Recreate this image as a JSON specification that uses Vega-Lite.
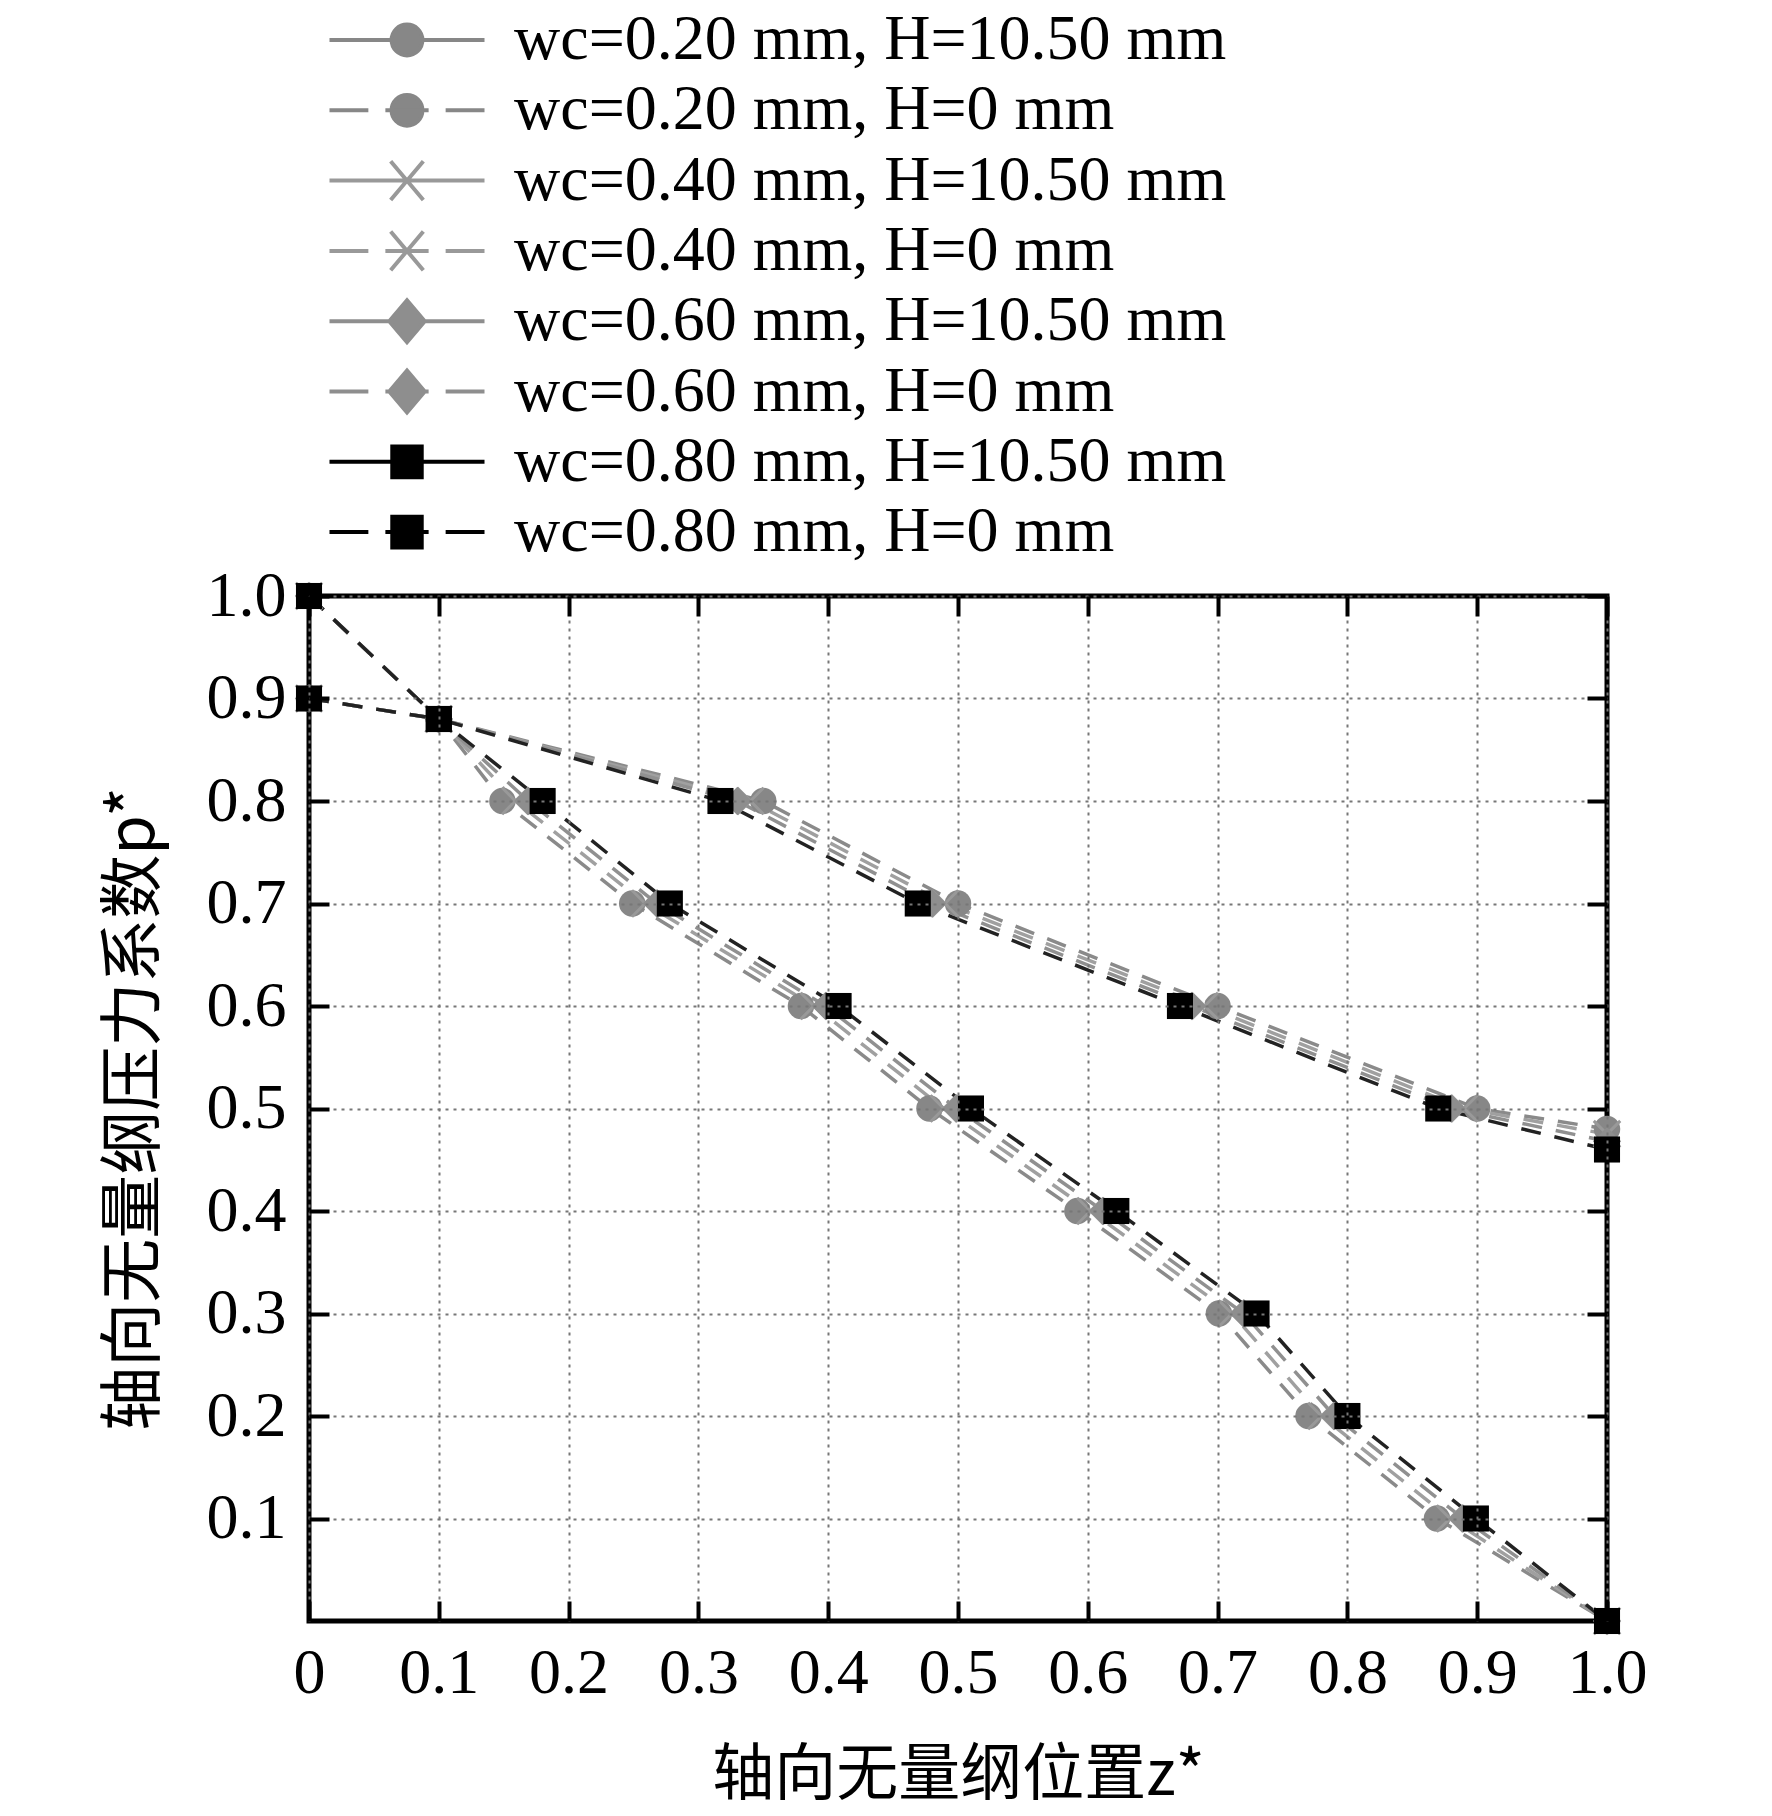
{
  "$schema": "https://vega.github.io/schema/vega-lite/v6.json",
  "autosize": {"type": "none"},
  "padding": {"left": 309, "top": 596, "right": 165, "bottom": 195},
  "width": 1298,
  "height": 1025,
  "background": "white",
  "config": {
    "view": {"stroke": "black", "strokeWidth": 5},
    "font": "Liberation Serif"
  },
  "data": {
    "values": [
      {"series": "wc=0.20 mm, H=10.50 mm", "wc": "0.20", "z": 0, "p": 0.9},
      {"series": "wc=0.20 mm, H=10.50 mm", "wc": "0.20", "z": 0.1, "p": 0.88},
      {"series": "wc=0.20 mm, H=10.50 mm", "wc": "0.20", "z": 0.35, "p": 0.8},
      {"series": "wc=0.20 mm, H=10.50 mm", "wc": "0.20", "z": 0.5, "p": 0.7},
      {"series": "wc=0.20 mm, H=10.50 mm", "wc": "0.20", "z": 0.7, "p": 0.6},
      {"series": "wc=0.20 mm, H=10.50 mm", "wc": "0.20", "z": 0.9, "p": 0.5},
      {"series": "wc=0.20 mm, H=10.50 mm", "wc": "0.20", "z": 1.0, "p": 0.48},
      {"series": "wc=0.40 mm, H=10.50 mm", "wc": "0.40", "z": 0, "p": 0.9},
      {"series": "wc=0.40 mm, H=10.50 mm", "wc": "0.40", "z": 0.1, "p": 0.88},
      {"series": "wc=0.40 mm, H=10.50 mm", "wc": "0.40", "z": 0.34, "p": 0.8},
      {"series": "wc=0.40 mm, H=10.50 mm", "wc": "0.40", "z": 0.49, "p": 0.7},
      {"series": "wc=0.40 mm, H=10.50 mm", "wc": "0.40", "z": 0.69, "p": 0.6},
      {"series": "wc=0.40 mm, H=10.50 mm", "wc": "0.40", "z": 0.89, "p": 0.5},
      {"series": "wc=0.40 mm, H=10.50 mm", "wc": "0.40", "z": 1.0, "p": 0.475},
      {"series": "wc=0.60 mm, H=10.50 mm", "wc": "0.60", "z": 0, "p": 0.9},
      {"series": "wc=0.60 mm, H=10.50 mm", "wc": "0.60", "z": 0.1, "p": 0.88},
      {"series": "wc=0.60 mm, H=10.50 mm", "wc": "0.60", "z": 0.33, "p": 0.8},
      {"series": "wc=0.60 mm, H=10.50 mm", "wc": "0.60", "z": 0.48, "p": 0.7},
      {"series": "wc=0.60 mm, H=10.50 mm", "wc": "0.60", "z": 0.68, "p": 0.6},
      {"series": "wc=0.60 mm, H=10.50 mm", "wc": "0.60", "z": 0.88, "p": 0.5},
      {"series": "wc=0.60 mm, H=10.50 mm", "wc": "0.60", "z": 1.0, "p": 0.468},
      {"series": "wc=0.80 mm, H=10.50 mm", "wc": "0.80", "z": 0, "p": 0.9},
      {"series": "wc=0.80 mm, H=10.50 mm", "wc": "0.80", "z": 0.1, "p": 0.88},
      {"series": "wc=0.80 mm, H=10.50 mm", "wc": "0.80", "z": 0.317, "p": 0.8},
      {"series": "wc=0.80 mm, H=10.50 mm", "wc": "0.80", "z": 0.469, "p": 0.7},
      {"series": "wc=0.80 mm, H=10.50 mm", "wc": "0.80", "z": 0.671, "p": 0.6},
      {"series": "wc=0.80 mm, H=10.50 mm", "wc": "0.80", "z": 0.87, "p": 0.5},
      {"series": "wc=0.80 mm, H=10.50 mm", "wc": "0.80", "z": 1.0, "p": 0.46},
      {"series": "wc=0.20 mm, H=0 mm", "wc": "0.20", "z": 0, "p": 1.0},
      {"series": "wc=0.20 mm, H=0 mm", "wc": "0.20", "z": 0.1, "p": 0.88},
      {"series": "wc=0.20 mm, H=0 mm", "wc": "0.20", "z": 0.149, "p": 0.8},
      {"series": "wc=0.20 mm, H=0 mm", "wc": "0.20", "z": 0.249, "p": 0.7},
      {"series": "wc=0.20 mm, H=0 mm", "wc": "0.20", "z": 0.379, "p": 0.6},
      {"series": "wc=0.20 mm, H=0 mm", "wc": "0.20", "z": 0.478, "p": 0.5},
      {"series": "wc=0.20 mm, H=0 mm", "wc": "0.20", "z": 0.592, "p": 0.4},
      {"series": "wc=0.20 mm, H=0 mm", "wc": "0.20", "z": 0.701, "p": 0.3},
      {"series": "wc=0.20 mm, H=0 mm", "wc": "0.20", "z": 0.77, "p": 0.2},
      {"series": "wc=0.20 mm, H=0 mm", "wc": "0.20", "z": 0.869, "p": 0.1},
      {"series": "wc=0.20 mm, H=0 mm", "wc": "0.20", "z": 1.0, "p": 0},
      {"series": "wc=0.40 mm, H=0 mm", "wc": "0.40", "z": 0, "p": 1.0},
      {"series": "wc=0.40 mm, H=0 mm", "wc": "0.40", "z": 0.1, "p": 0.88},
      {"series": "wc=0.40 mm, H=0 mm", "wc": "0.40", "z": 0.159, "p": 0.8},
      {"series": "wc=0.40 mm, H=0 mm", "wc": "0.40", "z": 0.259, "p": 0.7},
      {"series": "wc=0.40 mm, H=0 mm", "wc": "0.40", "z": 0.389, "p": 0.6},
      {"series": "wc=0.40 mm, H=0 mm", "wc": "0.40", "z": 0.489, "p": 0.5},
      {"series": "wc=0.40 mm, H=0 mm", "wc": "0.40", "z": 0.602, "p": 0.4},
      {"series": "wc=0.40 mm, H=0 mm", "wc": "0.40", "z": 0.711, "p": 0.3},
      {"series": "wc=0.40 mm, H=0 mm", "wc": "0.40", "z": 0.78, "p": 0.2},
      {"series": "wc=0.40 mm, H=0 mm", "wc": "0.40", "z": 0.879, "p": 0.1},
      {"series": "wc=0.40 mm, H=0 mm", "wc": "0.40", "z": 1.0, "p": 0},
      {"series": "wc=0.60 mm, H=0 mm", "wc": "0.60", "z": 0, "p": 1.0},
      {"series": "wc=0.60 mm, H=0 mm", "wc": "0.60", "z": 0.1, "p": 0.88},
      {"series": "wc=0.60 mm, H=0 mm", "wc": "0.60", "z": 0.169, "p": 0.8},
      {"series": "wc=0.60 mm, H=0 mm", "wc": "0.60", "z": 0.268, "p": 0.7},
      {"series": "wc=0.60 mm, H=0 mm", "wc": "0.60", "z": 0.398, "p": 0.6},
      {"series": "wc=0.60 mm, H=0 mm", "wc": "0.60", "z": 0.499, "p": 0.5},
      {"series": "wc=0.60 mm, H=0 mm", "wc": "0.60", "z": 0.612, "p": 0.4},
      {"series": "wc=0.60 mm, H=0 mm", "wc": "0.60", "z": 0.72, "p": 0.3},
      {"series": "wc=0.60 mm, H=0 mm", "wc": "0.60", "z": 0.79, "p": 0.2},
      {"series": "wc=0.60 mm, H=0 mm", "wc": "0.60", "z": 0.889, "p": 0.1},
      {"series": "wc=0.60 mm, H=0 mm", "wc": "0.60", "z": 1.0, "p": 0},
      {"series": "wc=0.80 mm, H=0 mm", "wc": "0.80", "z": 0, "p": 1.0},
      {"series": "wc=0.80 mm, H=0 mm", "wc": "0.80", "z": 0.1, "p": 0.88},
      {"series": "wc=0.80 mm, H=0 mm", "wc": "0.80", "z": 0.18, "p": 0.8},
      {"series": "wc=0.80 mm, H=0 mm", "wc": "0.80", "z": 0.278, "p": 0.7},
      {"series": "wc=0.80 mm, H=0 mm", "wc": "0.80", "z": 0.408, "p": 0.6},
      {"series": "wc=0.80 mm, H=0 mm", "wc": "0.80", "z": 0.51, "p": 0.5},
      {"series": "wc=0.80 mm, H=0 mm", "wc": "0.80", "z": 0.622, "p": 0.4},
      {"series": "wc=0.80 mm, H=0 mm", "wc": "0.80", "z": 0.73, "p": 0.3},
      {"series": "wc=0.80 mm, H=0 mm", "wc": "0.80", "z": 0.8, "p": 0.2},
      {"series": "wc=0.80 mm, H=0 mm", "wc": "0.80", "z": 0.899, "p": 0.1},
      {"series": "wc=0.80 mm, H=0 mm", "wc": "0.80", "z": 1.0, "p": 0}
    ]
  },
  "layer": [
    {
      "mark": {"type": "point", "filled": true, "size": 1, "strokeWidth": 0.5},
      "encoding": {
        "x": {"field": "z", "type": "quantitative", "scale": {"domain": [0, 1], "nice": false, "zero": false}, "axis": null},
        "y": {"field": "p", "type": "quantitative", "scale": {"domain": [0, 1], "nice": false, "zero": false}, "axis": null},
        "shape": {
          "field": "series", "type": "nominal",
          "scale": {
            "domain": ["wc=0.20 mm, H=10.50 mm", "wc=0.20 mm, H=0 mm", "wc=0.40 mm, H=10.50 mm", "wc=0.40 mm, H=0 mm", "wc=0.60 mm, H=10.50 mm", "wc=0.60 mm, H=0 mm", "wc=0.80 mm, H=10.50 mm", "wc=0.80 mm, H=0 mm"],
            "range": [
              "M-3.37,0L3.37,0M-0.67,0A0.67,0.67,0,1,0,0.67,0A0.67,0.67,0,1,0,-0.67,0Z",
              "M-3.37,0L-1.68,0M-0.94,0L0.94,0M1.68,0L3.37,0M-0.67,0A0.67,0.67,0,1,0,0.67,0A0.67,0.67,0,1,0,-0.67,0Z",
              "M-3.37,0L3.37,0M-0.71,-0.84L0.71,0.84M-0.71,0.84L0.71,-0.84",
              "M-3.37,0L-1.68,0M-0.94,0L0.94,0M1.68,0L3.37,0M-0.71,-0.84L0.71,0.84M-0.71,0.84L0.71,-0.84",
              "M-3.37,0L3.37,0M0,-0.91L0.77,0L0,0.91L-0.77,0Z",
              "M-3.37,0L-1.68,0M-0.94,0L0.94,0M1.68,0L3.37,0M0,-0.91L0.77,0L0,0.91L-0.77,0Z",
              "M-3.37,0L3.37,0M-0.64,-0.67L0.64,-0.67L0.64,0.67L-0.64,0.67Z",
              "M-3.37,0L-1.68,0M-0.94,0L0.94,0M1.68,0L3.37,0M-0.64,-0.67L0.64,-0.67L0.64,0.67L-0.64,0.67Z"
            ]
          },
          "legend": {
            "title": null, "orient": "none", "legendX": 66, "legendY": -588,
            "symbolSize": 2116, "symbolStrokeWidth": 4, "symbolOpacity": 1,
            "labelFont": "Liberation Serif", "labelFontSize": 64, "labelColor": "black",
            "labelOffset": 75, "rowPadding": 6.3, "padding": 0, "labelLimit": 2000
          }
        },
        "fill": {
          "field": "series", "type": "nominal",
          "scale": {
            "domain": ["wc=0.20 mm, H=10.50 mm", "wc=0.20 mm, H=0 mm", "wc=0.40 mm, H=10.50 mm", "wc=0.40 mm, H=0 mm", "wc=0.60 mm, H=10.50 mm", "wc=0.60 mm, H=0 mm", "wc=0.80 mm, H=10.50 mm", "wc=0.80 mm, H=0 mm"],
            "range": ["#878787", "#878787", "#999999", "#999999", "#8e8e8e", "#8e8e8e", "#000000", "#000000"]
          },
          "legend": {
            "title": null, "orient": "none", "legendX": 66, "legendY": -588,
            "symbolSize": 2116, "symbolStrokeWidth": 4, "symbolOpacity": 1,
            "labelFont": "Liberation Serif", "labelFontSize": 64, "labelColor": "black",
            "labelOffset": 75, "rowPadding": 6.3, "padding": 0, "labelLimit": 2000
          }
        },
        "stroke": {
          "field": "series", "type": "nominal",
          "scale": {
            "domain": ["wc=0.20 mm, H=10.50 mm", "wc=0.20 mm, H=0 mm", "wc=0.40 mm, H=10.50 mm", "wc=0.40 mm, H=0 mm", "wc=0.60 mm, H=10.50 mm", "wc=0.60 mm, H=0 mm", "wc=0.80 mm, H=10.50 mm", "wc=0.80 mm, H=0 mm"],
            "range": ["#878787", "#878787", "#999999", "#999999", "#8e8e8e", "#8e8e8e", "#000000", "#000000"]
          },
          "legend": {
            "title": null, "orient": "none", "legendX": 66, "legendY": -588,
            "symbolSize": 2116, "symbolStrokeWidth": 4, "symbolOpacity": 1,
            "labelFont": "Liberation Serif", "labelFontSize": 64, "labelColor": "black",
            "labelOffset": 75, "rowPadding": 6.3, "padding": 0, "labelLimit": 2000
          }
        }
      }
    },
    {
      "mark": {"type": "line", "strokeWidth": 3.5, "strokeDash": [20, 14], "clip": false},
      "encoding": {
        "x": {
          "field": "z", "type": "quantitative",
          "axis": {
            "orient": "bottom", "offset": 0, "zindex": 2,
            "values": [0, 0.1, 0.2, 0.3, 0.4, 0.5, 0.6, 0.7, 0.8, 0.9, 1.0],
            "labelExpr": "datum.value == 0 ? '0' : format(datum.value, '.1f')",
            "grid": true, "gridColor": "#777777", "gridWidth": 2, "gridDash": [3, 5],
            "domain": false,
            "ticks": true, "tickSize": -20, "tickWidth": 4, "tickColor": "#000000", "tickOpacity": 1,
            "labelFont": "Liberation Serif", "labelFontSize": 64, "labelColor": "black",
            "labelPadding": 40, "labelFlush": false, "labelOverlap": false,
            "title": "轴向无量纲位置z*",
            "titleFont": "Noto Sans CJK SC", "titleFontSize": 62, "titleFontWeight": "normal",
            "titleColor": "black", "titlePadding": 40
          }
        },
        "y": {
          "field": "p", "type": "quantitative",
          "axis": {
            "orient": "left", "offset": 0, "zindex": 2,
            "values": [0.1, 0.2, 0.3, 0.4, 0.5, 0.6, 0.7, 0.8, 0.9, 1.0],
            "format": ".1f",
            "grid": true, "gridColor": "#777777", "gridWidth": 2, "gridDash": [3, 5],
            "domain": false,
            "ticks": true, "tickSize": -20, "tickWidth": 4, "tickColor": "#000000", "tickOpacity": 1,
            "labelFont": "Liberation Serif", "labelFontSize": 64, "labelColor": "black",
            "labelPadding": 43, "labelFlush": false, "labelOverlap": false,
            "title": "轴向无量纲压力系数p*",
            "titleFont": "Noto Sans CJK SC", "titleFontSize": 64, "titleFontWeight": "normal",
            "titleColor": "black", "titlePadding": 40
          }
        },
        "color": {
          "field": "series", "type": "nominal", "legend": null,
          "scale": {
            "domain": ["wc=0.20 mm, H=10.50 mm", "wc=0.20 mm, H=0 mm", "wc=0.40 mm, H=10.50 mm", "wc=0.40 mm, H=0 mm", "wc=0.60 mm, H=10.50 mm", "wc=0.60 mm, H=0 mm", "wc=0.80 mm, H=10.50 mm", "wc=0.80 mm, H=0 mm"],
            "range": ["#8a8a8a", "#8a8a8a", "#a0a0a0", "#a0a0a0", "#909090", "#909090", "#222222", "#222222"]
          }
        }
      }
    },
    {
      "transform": [{"filter": {"field": "wc", "equal": "0.20"}}],
      "mark": {"type": "point", "shape": "circle", "filled": true, "size": 700, "color": "#878787", "opacity": 1, "clip": false},
      "encoding": {
        "x": {"field": "z", "type": "quantitative", "axis": {"orient": "top", "offset": 0, "zindex": 2, "values": [0, 0.1, 0.2, 0.3, 0.4, 0.5, 0.6, 0.7, 0.8, 0.9, 1.0], "labels": false, "grid": false, "domain": false, "ticks": true, "tickSize": -20, "tickWidth": 4, "tickColor": "#000000", "tickOpacity": 1, "title": null}},
        "y": {"field": "p", "type": "quantitative", "axis": {"orient": "right", "offset": 0, "zindex": 2, "values": [0.1, 0.2, 0.3, 0.4, 0.5, 0.6, 0.7, 0.8, 0.9, 1.0], "labels": false, "grid": false, "domain": false, "ticks": true, "tickSize": -20, "tickWidth": 4, "tickColor": "#000000", "tickOpacity": 1, "title": null}}
      }
    },
    {
      "transform": [{"filter": {"field": "wc", "equal": "0.40"}}],
      "mark": {"type": "point", "shape": "M-1,-1L1,1M-1,1L1,-1", "filled": false, "size": 700, "color": "#999999", "strokeWidth": 3, "opacity": 1, "clip": false},
      "encoding": {
        "x": {"field": "z", "type": "quantitative", "axis": null},
        "y": {"field": "p", "type": "quantitative", "axis": null}
      }
    },
    {
      "transform": [{"filter": {"field": "wc", "equal": "0.60"}}],
      "mark": {"type": "point", "shape": "diamond", "filled": true, "size": 800, "color": "#8e8e8e", "opacity": 1, "clip": false},
      "encoding": {
        "x": {"field": "z", "type": "quantitative", "axis": null},
        "y": {"field": "p", "type": "quantitative", "axis": null}
      }
    },
    {
      "transform": [{"filter": {"field": "wc", "equal": "0.80"}}],
      "mark": {"type": "point", "shape": "square", "filled": true, "size": 680, "color": "#000000", "opacity": 1, "clip": false},
      "encoding": {
        "x": {"field": "z", "type": "quantitative", "axis": null},
        "y": {"field": "p", "type": "quantitative", "axis": null}
      }
    }
  ]
}
